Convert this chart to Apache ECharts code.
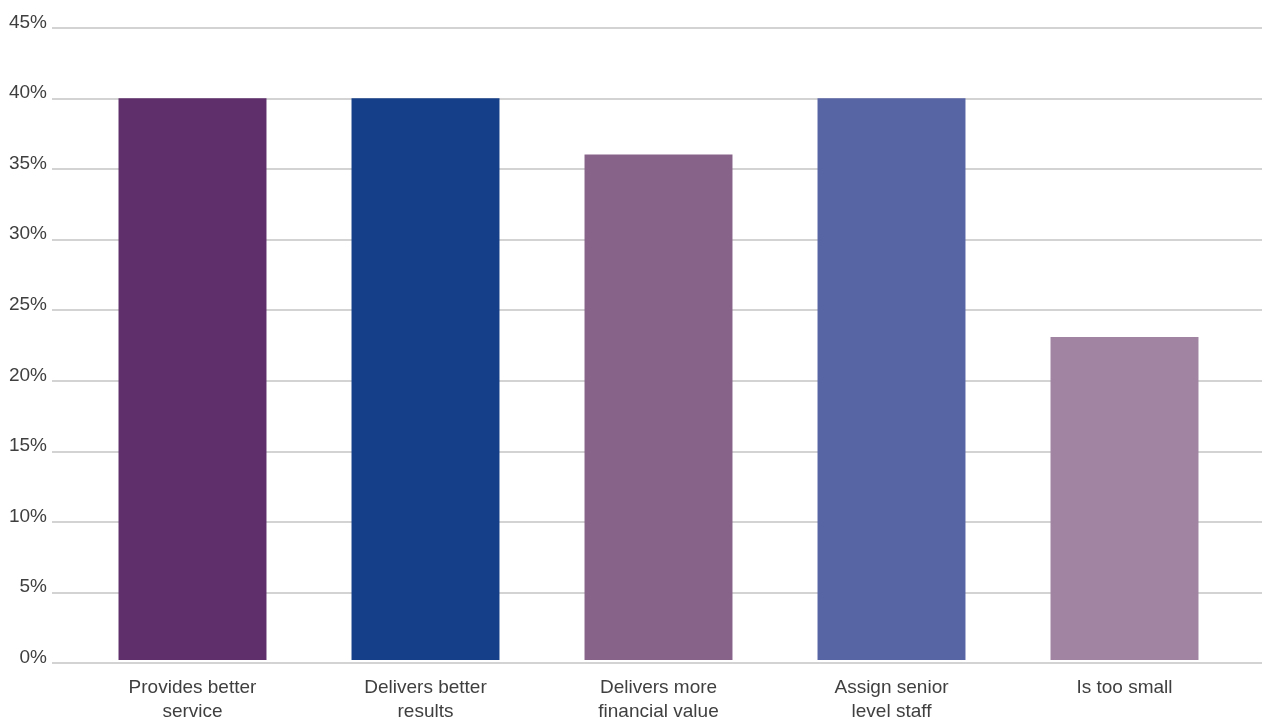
<!DOCTYPE html>
<html>
<head>
<meta charset="utf-8">
<style>
  html, body { margin: 0; padding: 0; background: #ffffff; }
  #chart { width: 1263px; height: 724px; }
</style>
<script src="https://cdn.jsdelivr.net/npm/echarts@6/dist/echarts.min.js"></script>
</head>
<body>
<div id="chart"></div>
<script>
// Survey responses: share of respondents per reason
const categories = [
  'Provides better\nservice',
  'Delivers better\nresults',
  'Delivers more\nfinancial value',
  'Assign senior\nlevel staff',
  'Is too small'
];
const values = [40, 40, 36, 40, 23];
const barColors = ['#5e2f6b', '#153f89', '#87638a', '#5865a5', '#a084a1'];
const yTicks = [0, 5, 10, 15, 20, 25, 30, 35, 40, 45];

const fontFamily = '"Liberation Sans", Arial, sans-serif';
const textColor = '#3f3f3f';

const chart = echarts.init(document.getElementById('chart'), null, { renderer: 'canvas' });

chart.setOption({
  animation: false,
  backgroundColor: '#ffffff',
  grid: [
    // full-width grid carrying the percentage scale and gridlines
    { left: 52, right: 1, top: 28, bottom: 61 },
    // inner grid where the bars sit
    { left: 76, right: 22, top: 28, bottom: 61 }
  ],
  xAxis: [
    { gridIndex: 0, type: 'value', show: false, min: 0, max: 1 },
    {
      gridIndex: 1,
      type: 'category',
      data: categories,
      axisLine: { show: false },
      axisTick: { show: false },
      axisLabel: {
        color: textColor,
        fontFamily: fontFamily,
        fontSize: 19,
        lineHeight: 24,
        margin: 16,
        interval: 0
      }
    }
  ],
  yAxis: [
    {
      gridIndex: 0,
      type: 'value',
      min: yTicks[0],
      max: yTicks[yTicks.length - 1],
      interval: 5,
      axisLine: { show: false },
      axisTick: { show: false },
      splitLine: { show: true, lineStyle: { color: '#d3d3d3', width: 2 } },
      axisLabel: {
        color: textColor,
        fontFamily: fontFamily,
        fontSize: 19,
        margin: 5,
        verticalAlign: 'bottom',
        padding: [0, 0, -4, 0],
        formatter: v => v + '%'
      }
    },
    {
      gridIndex: 1,
      type: 'value',
      min: yTicks[0],
      max: yTicks[yTicks.length - 1],
      interval: 5,
      show: false
    }
  ],
  series: [
    {
      type: 'bar',
      xAxisIndex: 1,
      yAxisIndex: 1,
      barWidth: '63.5%',
      data: values.map((v, i) => ({ value: v, itemStyle: { color: barColors[i] } }))
    }
  ]
});
</script>
</body>
</html>
